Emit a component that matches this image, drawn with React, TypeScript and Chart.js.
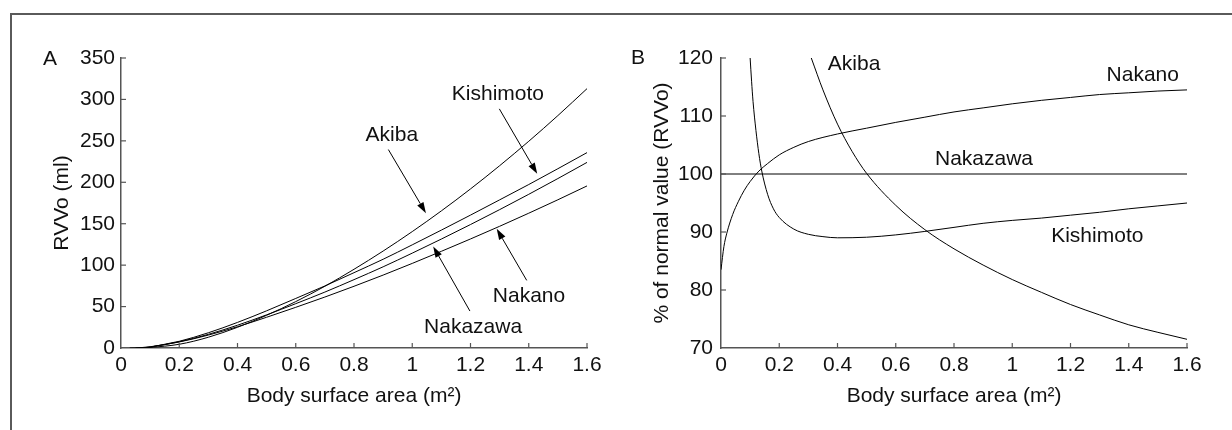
import React, { useEffect, useRef } from 'react';
import { Chart, registerables } from 'chart.js';

Chart.register(...registerables);

const FONT = '"Liberation Sans", Arial, Helvetica, sans-serif';

// ---------- Panel A : RVVo (ml) vs body surface area ----------
const akibaA_x = [0.03, 0.1, 0.2, 0.3, 0.4, 0.5, 0.6, 0.7, 0.8, 0.9, 1.0, 1.1, 1.2, 1.3, 1.4, 1.5, 1.6];
const akibaA_y = [0, 0.8, 4.5, 13, 25, 39.5, 56, 74.5, 95, 117, 140.5, 165.5, 192, 220, 249.5, 280.5, 313];

const kishimotoA_x = [0.09, 0.1, 0.2, 0.3, 0.4, 0.5, 0.6, 0.7, 0.8, 0.9, 1.0, 1.1, 1.2, 1.3, 1.4, 1.5, 1.6];
const kishimotoA_y = [0, 1.0, 8.1, 18.4, 30.9, 44.9, 59.8, 74.9, 90.9, 107.1, 124.5, 142.3, 160.4, 178.8, 197.3, 216.4, 235.8];

const nakazawaA_x = [0.07, 0.1, 0.2, 0.3, 0.4, 0.5, 0.6, 0.7, 0.8, 0.9, 1.0, 1.1, 1.2, 1.3, 1.4, 1.5, 1.6];
const nakazawaA_y = [0, 1.2, 7.5, 16.5, 27.5, 40, 53.5, 67.5, 82.5, 98, 114.5, 131.5, 149, 167, 185.5, 204.5, 224];

const nakanoA_x = [0.05, 0.1, 0.2, 0.3, 0.4, 0.5, 0.6, 0.7, 0.8, 0.9, 1.0, 1.1, 1.2, 1.3, 1.4, 1.5, 1.6];
const nakanoA_y = [0, 1.5, 7.3, 15.6, 25.7, 37.1, 49.1, 61.5, 74.5, 88, 102.1, 116.7, 131.6, 146.9, 162.7, 178.9, 195.6];

const yTicksA = [0, 50, 100, 150, 200, 250, 300, 350];
const yTickLabelsA = ['0', '50', '100', '150', '200', '250', '300', '350'];

// ---------- Panel B : % of normal value (RVVo) ----------
const nakanoB_x = [0, 0.01, 0.02, 0.04, 0.06, 0.08, 0.1, 0.13, 0.16, 0.2, 0.25, 0.3, 0.4, 0.5, 0.6, 0.7, 0.8, 0.9, 1.0, 1.1, 1.2, 1.3, 1.4, 1.5, 1.6];
const nakanoB_y = [83.5, 87.5, 89.8, 93, 95.3, 97.2, 98.7, 100.5, 101.8, 103.3, 104.6, 105.6, 106.9, 107.9, 108.9, 109.8, 110.7, 111.4, 112.1, 112.7, 113.2, 113.7, 114.0, 114.3, 114.5];

const kishimotoB_x = [0.1, 0.105, 0.11, 0.12, 0.13, 0.14, 0.16, 0.18, 0.2, 0.25, 0.3, 0.35, 0.4, 0.5, 0.6, 0.7, 0.8, 0.9, 1.0, 1.1, 1.2, 1.3, 1.4, 1.5, 1.6];
const kishimotoB_y = [120, 116, 112.5, 107.5, 103.5, 100.5, 96.5, 94, 92.5, 90.5, 89.6, 89.2, 89.0, 89.1, 89.5, 90.1, 90.8, 91.5, 92.0, 92.4, 92.9, 93.4, 94.0, 94.5, 95.0];

const akibaB_x = [0.31, 0.35, 0.4, 0.45, 0.5, 0.6, 0.7, 0.8, 0.9, 1.0, 1.1, 1.2, 1.3, 1.4, 1.5, 1.6];
const akibaB_y = [120, 114.5, 108.6, 103.9, 100.1, 94.6, 90.4, 87.1, 84.3, 81.8, 79.6, 77.5, 75.7, 74.0, 72.7, 71.5];

const nakazawaB_x = [0, 1.6];
const nakazawaB_y = [100, 100];

const yTicksB = [70, 80, 90, 100, 110, 120];
const yTickLabelsB = ['70', '80', '90', '100', '110', '120'];

// ---------- shared x axis ----------
const xTicks = [0, 0.2, 0.4, 0.6, 0.8, 1.0, 1.2, 1.4, 1.6];
const xTickLabels = ['0', '0.2', '0.4', '0.6', '0.8', '1', '1.2', '1.4', '1.6'];

// ---------- labels (data coordinates) ----------
type Note = { text: string; x: number; y: number; arrow?: [number, number, number, number] };
const notesA: Note[] = [
  { text: 'Akiba', x: 0.93, y: 256.4, arrow: [0.918, 239.5, 1.047, 162.7] },
  { text: 'Kishimoto', x: 1.294, y: 306.4, arrow: [1.299, 288.6, 1.429, 210.2] },
  { text: 'Nakano', x: 1.401, y: 62.3, arrow: [1.393, 81.6, 1.29, 143.9] },
  { text: 'Nakazawa', x: 1.209, y: 25, arrow: [1.198, 44.6, 1.072, 122.6] },
];
const notesB: Note[] = [
  { text: 'Akiba', x: 0.457, y: 118.9 },
  { text: 'Nakano', x: 1.448, y: 117.1 },
  { text: 'Nakazawa', x: 0.903, y: 102.6 },
  { text: 'Kishimoto', x: 1.292, y: 89.3 },
];

const zip = (xs: number[], ys: number[]) => xs.map((x, i) => ({ x, y: ys[i] }));

const overlayPlugin = {
  id: 'overlay',
  afterDraw(chart: any, _args: any, opts: any) {
    const { ctx, chartArea } = chart;
    const xs = chart.scales.x;
    const ys = chart.scales.y;
    ctx.save();
    ctx.strokeStyle = '#555';
    ctx.lineWidth = 1.2;
    for (const v of opts.xTicks) {
      const px = xs.getPixelForValue(v);
      if (Math.abs(px - chartArea.left) < 1) continue;
      ctx.beginPath();
      ctx.moveTo(px, chartArea.bottom);
      ctx.lineTo(px, chartArea.bottom - 5);
      ctx.stroke();
    }
    for (const v of opts.yTicks) {
      const py = ys.getPixelForValue(v);
      if (Math.abs(py - chartArea.bottom) < 1) continue;
      ctx.beginPath();
      ctx.moveTo(chartArea.left, py);
      ctx.lineTo(chartArea.left + 5, py);
      ctx.stroke();
    }
    ctx.fillStyle = '#111';
    ctx.strokeStyle = '#000';
    ctx.lineWidth = 1;
    ctx.font = `21px ${FONT}`;
    ctx.textAlign = 'center';
    ctx.textBaseline = 'middle';
    for (const n of opts.notes as Note[]) {
      ctx.fillText(n.text, xs.getPixelForValue(n.x), ys.getPixelForValue(n.y));
      if (n.arrow) {
        const x1 = xs.getPixelForValue(n.arrow[0]);
        const y1 = ys.getPixelForValue(n.arrow[1]);
        const x2 = xs.getPixelForValue(n.arrow[2]);
        const y2 = ys.getPixelForValue(n.arrow[3]);
        const ang = Math.atan2(y2 - y1, x2 - x1);
        const hl = 11, hw = 3.6;
        const bx = x2 - hl * Math.cos(ang);
        const by = y2 - hl * Math.sin(ang);
        ctx.beginPath();
        ctx.moveTo(x1, y1);
        ctx.lineTo(bx, by);
        ctx.stroke();
        ctx.beginPath();
        ctx.moveTo(x2, y2);
        ctx.lineTo(bx + hw * Math.sin(ang), by - hw * Math.cos(ang));
        ctx.lineTo(bx - hw * Math.sin(ang), by + hw * Math.cos(ang));
        ctx.closePath();
        ctx.fillStyle = '#000';
        ctx.fill();
        ctx.fillStyle = '#111';
      }
    }
    ctx.restore();
  },
};

function makeConfig(
  series: { x: number[]; y: number[] }[],
  yMin: number,
  yMax: number,
  yTicks: number[],
  yLabels: string[],
  yTitle: string,
  notes: Note[],
  yTickPad: number
): any {
  return {
    type: 'scatter',
    data: {
      datasets: series.map((s) => ({
        data: zip(s.x, s.y),
        showLine: true,
        borderColor: '#000',
        borderWidth: 1,
        pointRadius: 0,
        cubicInterpolationMode: 'monotone',
        fill: false,
      })),
    },
    plugins: [overlayPlugin],
    options: {
      responsive: false,
      animation: false,
      events: [],
      layout: { padding: { left: 0, top: 58, right: 0, bottom: 0 } },
      plugins: {
        legend: { display: false },
        tooltip: { enabled: false },
        overlay: { xTicks, yTicks, notes },
      },
      scales: {
        x: {
          type: 'linear',
          min: 0,
          max: 1.6,
          afterBuildTicks: (sc: any) => {
            sc.ticks = xTicks.map((v) => ({ value: v }));
          },
          afterFit: (sc: any) => {
            sc.height = 82;
          },
          grid: { display: true, drawOnChartArea: false, drawTicks: false },
          border: { display: true, color: '#555', width: 1.5 },
          ticks: {
            autoSkip: false,
            maxRotation: 0,
            padding: 5,
            color: '#111',
            font: { family: FONT, size: 21 },
            callback: (_v: any, i: number) => xTickLabels[i],
          },
          title: {
            display: true,
            text: 'Body surface area (m²)',
            color: '#111',
            font: { family: FONT, size: 21 },
            padding: { top: 0, bottom: 21 },
          },
        },
        y: {
          type: 'linear',
          min: yMin,
          max: yMax,
          afterBuildTicks: (sc: any) => {
            sc.ticks = yTicks.map((v) => ({ value: v }));
          },
          afterFit: (sc: any) => {
            sc.width = 121;
          },
          grid: { display: true, drawOnChartArea: false, drawTicks: false },
          border: { display: true, color: '#555', width: 1.5 },
          ticks: {
            autoSkip: false,
            padding: yTickPad,
            color: '#111',
            font: { family: FONT, size: 21 },
            callback: (_v: any, i: number) => yLabels[i],
          },
          title: {
            display: true,
            text: yTitle,
            color: '#111',
            font: { family: FONT, size: 21 },
            padding: { top: 50, bottom: 0 },
          },
        },
      },
    },
  };
}

function Panel(props: { config: any; left: number; width: number }) {
  const ref = useRef<HTMLCanvasElement | null>(null);
  useEffect(() => {
    if (!ref.current) return;
    const ch = new Chart(ref.current, props.config);
    return () => ch.destroy();
  }, []);
  return (
    <div style={{ position: 'absolute', left: props.left, top: 0, width: props.width, height: 430 }}>
      <canvas ref={ref} width={props.width} height={430} style={{ display: 'block' }} />
    </div>
  );
}

export default function App() {
  const cfgA = makeConfig(
    [
      { x: akibaA_x, y: akibaA_y },
      { x: kishimotoA_x, y: kishimotoA_y },
      { x: nakazawaA_x, y: nakazawaA_y },
      { x: nakanoA_x, y: nakanoA_y },
    ],
    0,
    350,
    yTicksA,
    yTickLabelsA,
    'RVVo (ml)',
    notesA,
    6
  );
  const cfgB = makeConfig(
    [
      { x: nakanoB_x, y: nakanoB_y },
      { x: kishimotoB_x, y: kishimotoB_y },
      { x: akibaB_x, y: akibaB_y },
      { x: nakazawaB_x, y: nakazawaB_y },
    ],
    70,
    120,
    yTicksB,
    yTickLabelsB,
    '% of normal value (RVVo)',
    notesB,
    8
  );
  cfgA.options.layout.padding.right = 620 - 587;
  cfgB.options.layout.padding.right = 632 - 587;
  const letter: React.CSSProperties = {
    position: 'absolute',
    fontFamily: FONT,
    fontSize: 21,
    color: '#111',
    lineHeight: '24px',
  };
  return (
    <div style={{ position: 'fixed', left: 0, top: 0, width: 1232, height: 430, background: '#fff', overflow: 'hidden' }}>
      <div
        style={{
          position: 'absolute',
          left: 10,
          top: 13,
          width: 1240,
          height: 440,
          borderTop: '2px solid #5a5a5a',
          borderLeft: '2px solid #5a5a5a',
        }}
      />
      <Panel config={cfgA} left={0} width={620} />
      <Panel config={cfgB} left={600} width={632} />
      <div style={{ ...letter, left: 43, top: 46 }}>A</div>
      <div style={{ ...letter, left: 631, top: 45 }}>B</div>
    </div>
  );
}
